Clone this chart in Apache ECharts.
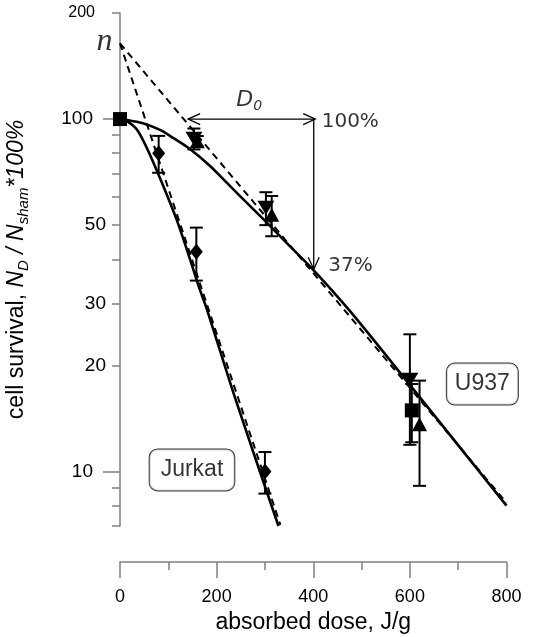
<!DOCTYPE html>
<html><head><meta charset="utf-8">
<script src="https://cdn.jsdelivr.net/npm/echarts@6/dist/echarts.min.js"></script>
<style>html,body{margin:0;padding:0;background:#fff}#c{width:534px;height:637px}</style>
</head><body><div id="c"></div>
<script>
// ---- axis ticks / labels ----
const xTickValues = [0, 200, 400, 600, 800];
const yShortTickValues = [200, 90, 80, 70, 60, 50, 40, 30, 20, 9, 8, 7];
const yShortLabelValues = [50, 30, 20];
const yLongTickValues = [100, 10];
const yLongLabelValues = [100, 10];
const yTopLabelValues = [200];

// ---- fitted curves ----
const jurkatFitDose = [0, 15, 36, 56, 77, 98, 118, 140, 163, 180, 238, 328];
const jurkatFitSurv = [100, 98.5, 93, 82.5, 71, 60.5, 51.5, 42, 33.5, 28.8, 16.2, 7.0];
const u937FitDose = [0, 22, 49, 84, 104, 146, 187, 228, 270, 304, 352, 401, 477, 597, 800];
const u937FitSurv = [100, 98.9, 97.2, 93, 89.5, 82, 73.5, 64.5, 56.5, 50.8, 43.5, 37.2, 28.4, 17.8, 8.0];
// extrapolated (dashed) exponential tails
const jurkatDashDose = [0, 332];
const jurkatDashSurv = [164, 7.05];
const u937DashDose = [0, 800];
const u937DashSurv = [164, 8.15];

// ---- measured points ----
const jurkatDose = [80, 158, 300];
const jurkatSurv = [80, 42, 10];
const jurkatErr = [9.6, 7.2, 1.35];
const u937DownDose = [153, 302, 600];
const u937DownSurv = [88, 56, 18.2];
const u937DownErr = [6, 6, 6.3];
const u937UpDose = [160, 314, 620];
const u937UpSurv = [86.5, 53.5, 13.6];
const u937UpErr = [3, 7, 4.5];
const squareDose = [0, 604];
const squareSurv = [100, 14.9];
const squareErr = [0, 2.8];

// ---- annotations ----
const boxText = ['Jurkat', 'U937'];
const boxDose = [149, 750];
const boxSurv = [10.1, 17.7];
const d0ArrowDose = [141, 404];   // horizontal D0 arrow at 100 %
const d0ArrowLevel = 100;
const dropDose = 401;             // vertical arrow 100 % -> 37 %
const dropLevels = [100, 37.5];
const nPoint = [0, 164];

const FONT = 'Liberation Sans';
const AX = '#808080';

function pairs(xs, ys) { return xs.map((x, i) => [x, ys[i]]); }
function bars(xs, ys, es) {
  const out = [];
  xs.forEach((x, i) => { if (es[i] > 0) out.push([x, ys[i] - es[i], ys[i] + es[i]]); });
  return out;
}
function errRender(params, api) {
  const x = api.value(0);
  const a = api.coord([x, api.value(1)]), b = api.coord([x, api.value(2)]);
  const c = 6.5, st = { stroke: '#000', lineWidth: 2 };
  return { type: 'group', children: [
    { type: 'line', shape: { x1: a[0], y1: a[1], x2: b[0], y2: b[1] }, style: st },
    { type: 'line', shape: { x1: a[0] - c, y1: a[1], x2: a[0] + c, y2: a[1] }, style: st },
    { type: 'line', shape: { x1: b[0] - c, y1: b[1], x2: b[0] + c, y2: b[1] }, style: st }
  ]};
}
function arrowRender(params, api) {
  const p = api.coord([api.value(0), api.value(1)]);
  const q = api.coord([api.value(2), api.value(3)]);
  const st = { stroke: '#000', lineWidth: 1.3, fill: null };
  const kids = [{ type: 'line', shape: { x1: p[0], y1: p[1], x2: q[0], y2: q[1] }, style: st }];
  function head(tip, from) {
    const dx = tip[0] - from[0], dy = tip[1] - from[1];
    const L = Math.hypot(dx, dy), ux = dx / L, uy = dy / L;
    const len = 12, w = 5.5;
    const bx = tip[0] - ux * len, by = tip[1] - uy * len;
    return { type: 'polyline', shape: { points: [[bx - uy * w, by + ux * w], [tip[0], tip[1]], [bx + uy * w, by - ux * w]] }, style: st };
  }
  if (api.value(4)) kids.push(head(p, q));
  if (api.value(5)) kids.push(head(q, p));
  return { type: 'group', children: kids };
}

const chart = echarts.init(document.getElementById('c'), null, { renderer: 'canvas' });

const lineBase = { type: 'line', symbol: 'none', silent: true, clip: false, z: 2 };
const markerBase = { type: 'scatter', silent: true, z: 5, itemStyle: { color: '#000', opacity: 1 } };
const errBase = { type: 'custom', renderItem: errRender, silent: true, z: 4, encode: { x: 0, y: [1, 2] } };

const yCommon = {
  type: 'log', logBase: 10, min: 7, max: 200, position: 'left', offset: 0,
  splitLine: { show: false }, minorTick: { show: false }, minorSplitLine: { show: false }
};

const option = {
  animation: false,
  backgroundColor: '#fff',
  grid: { left: 120, right: 27.5, top: 13, bottom: 111, containLabel: false, outerBoundsMode: 'none' },
  xAxis: {
    type: 'value', min: 0, max: 800, interval: 200, offset: 36,
    axisLine: { show: true, lineStyle: { color: AX, width: 1.5 } },
    axisTick: { show: true, length: 16, lineStyle: { color: AX, width: 1.5 } },
    minorTick: { show: true, splitNumber: 2, length: 8, lineStyle: { color: AX, width: 1.5 } },
    axisLabel: { margin: 26, fontSize: 18, fontFamily: FONT, color: '#000', customValues: xTickValues },
    splitLine: { show: false }, minorSplitLine: { show: false },
    name: 'absorbed dose, J/g', nameLocation: 'middle', nameGap: 47,
    nameTextStyle: { fontSize: 23, fontFamily: FONT, color: '#000' }
  },
  yAxis: [
    Object.assign({}, yCommon, {
      axisLine: { show: true, lineStyle: { color: AX, width: 1.5 } },
      axisTick: { show: true, length: 8, customValues: yShortTickValues, lineStyle: { color: AX, width: 1.5 } },
      axisLabel: { margin: 14, fontSize: 19, fontFamily: FONT, color: '#000', customValues: yShortLabelValues },
      name: 'cell survival, {i|N}{s|D}{i| / N}{s|sham}{i|*100%}',
      nameLocation: 'middle', nameRotate: 90, nameGap: 89,
      nameTextStyle: {
        fontSize: 23, fontFamily: FONT, color: '#000', lineHeight: 28,
        rich: {
          i: { fontSize: 23, fontFamily: FONT, fontStyle: 'italic', color: '#000', lineHeight: 28 },
          s: { fontSize: 15, fontFamily: FONT, fontStyle: 'italic', color: '#000', lineHeight: 14, verticalAlign: 'bottom' }
        }
      }
    }),
    Object.assign({}, yCommon, {
      axisLine: { show: false },
      axisTick: { show: true, length: 17, customValues: yLongTickValues, lineStyle: { color: AX, width: 1.5 } },
      axisLabel: { margin: 27, fontSize: 19, fontFamily: FONT, color: '#000', customValues: yLongLabelValues }
    }),
    Object.assign({}, yCommon, {
      axisLine: { show: false },
      axisTick: { show: false },
      axisLabel: { margin: 25, fontSize: 16, fontFamily: FONT, color: '#000', customValues: yTopLabelValues }
    })
  ],
  series: [
    Object.assign({}, lineBase, { name: 'Jurkat dashed', data: pairs(jurkatDashDose, jurkatDashSurv),
      lineStyle: { color: '#000', width: 2, type: [7, 5] } }),
    Object.assign({}, lineBase, { name: 'U937 dashed', data: pairs(u937DashDose, u937DashSurv),
      lineStyle: { color: '#000', width: 2, type: [7, 5] } }),
    Object.assign({}, lineBase, { name: 'Jurkat fit', data: pairs(jurkatFitDose, jurkatFitSurv), smooth: 0.3,
      lineStyle: { color: '#000', width: 2.6 } }),
    Object.assign({}, lineBase, { name: 'U937 fit', data: pairs(u937FitDose, u937FitSurv), smooth: 0.3,
      lineStyle: { color: '#000', width: 2.6 } }),
    Object.assign({}, errBase, { data: bars(jurkatDose, jurkatSurv, jurkatErr) }),
    Object.assign({}, errBase, { data: bars(u937DownDose, u937DownSurv, u937DownErr) }),
    Object.assign({}, errBase, { data: bars(u937UpDose, u937UpSurv, u937UpErr) }),
    Object.assign({}, errBase, { data: bars(squareDose, squareSurv, squareErr) }),
    Object.assign({}, markerBase, { name: 'Jurkat', symbol: 'diamond', symbolSize: [13, 16], data: pairs(jurkatDose, jurkatSurv) }),
    Object.assign({}, markerBase, { name: 'U937 a', symbol: 'triangle', symbolRotate: 180, symbolSize: [17, 14], data: pairs(u937DownDose, u937DownSurv) }),
    Object.assign({}, markerBase, { name: 'U937 b', symbol: 'triangle', symbolSize: [15, 14], data: pairs(u937UpDose, u937UpSurv) }),
    Object.assign({}, markerBase, { name: 'U937 c', symbol: 'rect', symbolSize: [14, 14], data: pairs(squareDose, squareSurv) }),
    {
      type: 'custom', renderItem: arrowRender, silent: true, z: 3, encode: { x: [0, 2], y: [1, 3] },
      data: [
        [d0ArrowDose[0], d0ArrowLevel, d0ArrowDose[1], d0ArrowLevel, 1, 1],
        [dropDose, dropLevels[0], dropDose, dropLevels[1], 0, 1]
      ]
    },
    {
      type: 'scatter', silent: true, z: 6, symbolSize: 1, itemStyle: { color: 'rgba(0,0,0,0)' },
      data: [
        { value: [boxDose[0], boxSurv[0]], label: { show: true, position: 'inside', formatter: boxText[0], fontSize: 23, lineHeight: 24,
            fontFamily: FONT, color: '#000', backgroundColor: '#fff', borderColor: '#000', borderWidth: 1, borderRadius: 8, padding: [9, 11, 8, 11] } },
        { value: [boxDose[1], boxSurv[1]], label: { show: true, position: 'inside', formatter: boxText[1], fontSize: 23, lineHeight: 24,
            fontFamily: FONT, color: '#000', backgroundColor: '#fff', borderColor: '#000', borderWidth: 1, borderRadius: 8, padding: [9, 8, 8, 8] } },
        { value: nPoint, label: { show: true, position: 'left', distance: 7, offset: [0, -2], formatter: 'n',
            fontFamily: 'Liberation Serif', fontStyle: 'italic', fontSize: 32, color: '#000' } },
        { value: [(d0ArrowDose[0] + d0ArrowDose[1]) / 2 - 5, d0ArrowLevel], label: { show: true, position: 'top', distance: 5,
            formatter: '{d|D}{s|0}', rich: {
              d: { fontFamily: 'DejaVu Sans', fontStyle: 'italic', fontSize: 22, color: '#000', lineHeight: 26 },
              s: { fontFamily: 'DejaVu Sans', fontStyle: 'italic', fontSize: 14, color: '#000', lineHeight: 12, verticalAlign: 'bottom' } } } },
        { value: [d0ArrowDose[1], d0ArrowLevel], label: { show: true, position: 'right', distance: 6, offset: [0, 3], formatter: '100%',
            fontFamily: 'DejaVu Sans', fontSize: 20, color: '#000' } },
        { value: [dropDose, dropLevels[1]], label: { show: true, position: 'right', distance: 14, offset: [0, -3], formatter: '37%',
            fontFamily: 'DejaVu Sans', fontSize: 20, color: '#000' } }
      ]
    }
  ]
};
chart.setOption(option);
</script></body></html>
